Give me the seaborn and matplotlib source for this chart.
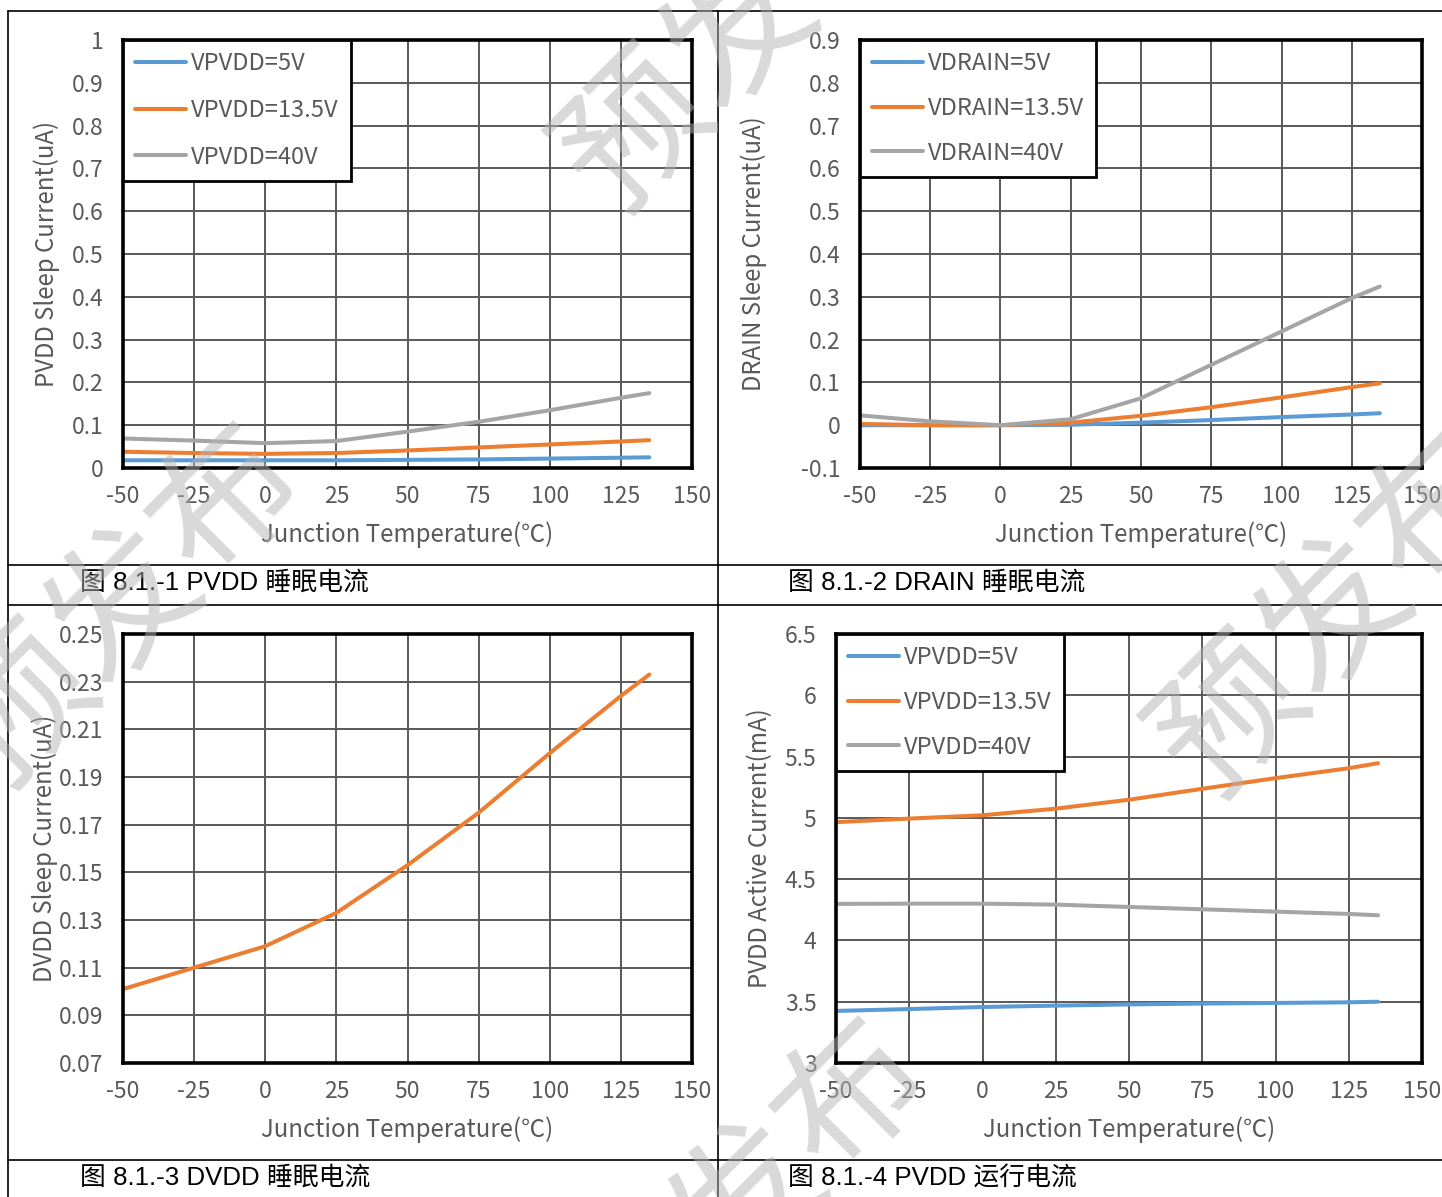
import numpy as np
import pandas as pd
import matplotlib
matplotlib.use("Agg")
import matplotlib.pyplot as plt
from matplotlib.lines import Line2D
from matplotlib.ticker import FixedLocator, FuncFormatter
import seaborn as sns

# ---------------- data ----------------
temps = [-50, -25, 0, 25, 50, 75, 100, 125, 135]

pvdd_sleep_5v = [0.018, 0.018, 0.018, 0.018, 0.019, 0.020, 0.022, 0.024, 0.025]
pvdd_sleep_13v5 = [0.038, 0.035, 0.033, 0.035, 0.041, 0.048, 0.055, 0.062, 0.065]
pvdd_sleep_40v = [0.069, 0.064, 0.058, 0.063, 0.085, 0.108, 0.135, 0.164, 0.175]

drain_sleep_5v = [0.000, 0.000, 0.000, 0.001, 0.006, 0.012, 0.019, 0.025, 0.028]
drain_sleep_13v5 = [0.003, 0.000, 0.000, 0.006, 0.022, 0.042, 0.065, 0.089, 0.098]
drain_sleep_40v = [0.023, 0.009, 0.000, 0.014, 0.063, 0.141, 0.219, 0.297, 0.324]

dvdd_sleep = [0.101, 0.110, 0.119, 0.133, 0.153, 0.175, 0.200, 0.224, 0.233]

pvdd_active_5v = [3.425, 3.440, 3.457, 3.468, 3.478, 3.485, 3.490, 3.495, 3.500]
pvdd_active_13v5 = [4.965, 4.994, 5.021, 5.075, 5.148, 5.237, 5.324, 5.405, 5.446]
pvdd_active_40v = [4.298, 4.300, 4.300, 4.292, 4.273, 4.254, 4.235, 4.216, 4.205]

pvdd_labels = ["VPVDD=5V", "VPVDD=13.5V", "VPVDD=40V"]
drain_labels = ["VDRAIN=5V", "VDRAIN=13.5V", "VDRAIN=40V"]
dvdd_labels = ["DVDD"]

x_ticks = [-50, -25, 0, 25, 50, 75, 100, 125, 150]
y_ticks_1 = [0, 0.1, 0.2, 0.3, 0.4, 0.5, 0.6, 0.7, 0.8, 0.9, 1]
y_ticks_2 = [-0.1, 0, 0.1, 0.2, 0.3, 0.4, 0.5, 0.6, 0.7, 0.8, 0.9]
y_ticks_3 = [0.07, 0.09, 0.11, 0.13, 0.15, 0.17, 0.19, 0.21, 0.23, 0.25]
y_ticks_4 = [3, 3.5, 4, 4.5, 5, 5.5, 6, 6.5]

x_label = "Junction Temperature(℃)"
y_labels = ["PVDD Sleep Current(uA)", "DRAIN Sleep Current(uA)",
            "DVDD Sleep Current(uA)", "PVDD Active Current(mA)"]
captions = ["图 8.1.-1 PVDD 睡眠电流", "图 8.1.-2 DRAIN 睡眠电流",
            "图 8.1.-3 DVDD 睡眠电流", "图 8.1.-4 PVDD 运行电流"]
watermark = "预发布"

series_colors = ["#5B9BD5", "#ED7D31", "#A5A5A5"]

# ---------------- style ----------------
sns.set_theme(style="white")
plt.rcParams["font.family"] = ["Noto Sans CJK SC", "DejaVu Sans"]
TXT = "#595959"
FS = 16.5
LFS = 17.3
LEGFS = 17

W, H = 1442, 1197
fig = plt.figure(figsize=(W / 100, H / 100), dpi=100)
fig.patch.set_facecolor("white")


def rect(x0, y0, x1, y1):
    return [x0 / W, 1 - y1 / H, (x1 - x0) / W, (y1 - y0) / H]


def make_df(series_list, labels):
    rows = []
    for vals, lab in zip(series_list, labels):
        for t, v in zip(temps, vals):
            rows.append({"T": t, "I": v, "series": lab})
    return pd.DataFrame(rows)


def draw(ax_rect, series_list, labels, colors, yticks, ylim, ylabel,
         ylabel_x, legend=True, labelspacing=0.92):
    ax = fig.add_axes(rect(*ax_rect))
    df = make_df(series_list, labels)
    sns.lineplot(data=df, x="T", y="I", hue="series", hue_order=labels,
                 palette=colors, linewidth=2.9, ax=ax, legend=False, zorder=3)
    ax.set_xlim(-50, 150)
    ax.set_ylim(*ylim)
    ax.xaxis.set_major_locator(FixedLocator(x_ticks))
    ax.yaxis.set_major_locator(FixedLocator(yticks))
    ax.yaxis.set_major_formatter(FuncFormatter(lambda v, p: f"{v:g}"))
    ax.xaxis.set_major_formatter(FuncFormatter(lambda v, p: f"{v:g}"))
    ax.grid(True, color="#595959", linewidth=1.4, zorder=1)
    ax.set_axisbelow(True)
    for s in ax.spines.values():
        s.set_visible(True)
        s.set_color("black")
        s.set_linewidth(2.6)
        s.set_zorder(4)
    ax.tick_params(axis="both", length=0, labelsize=FS, labelcolor=TXT)
    ax.tick_params(axis="y", pad=14)
    ax.tick_params(axis="x", pad=12)
    ax.set_xlabel(x_label, fontsize=LFS, color=TXT)
    ax.set_ylabel(ylabel, fontsize=LFS, color=TXT)
    ax.xaxis.set_label_coords(0.5, -0.155)
    ax.xaxis.label.set_va("center")
    ax.yaxis.set_label_coords(ylabel_x, 0.5)
    ax.yaxis.label.set_va("center")
    if legend:
        handles = [Line2D([0], [0], color=c, lw=2.9) for c in colors]
        leg = ax.legend(handles, labels, loc="upper left",
                        bbox_to_anchor=(0, 1), borderaxespad=0,
                        fontsize=LEGFS, frameon=True, fancybox=False,
                        handlelength=2.15, handletextpad=0.2,
                        labelspacing=labelspacing, borderpad=0.52)
        fr = leg.get_frame()
        fr.set_edgecolor("black")
        fr.set_linewidth(2.0)
        fr.set_facecolor("white")
        fr.set_alpha(1)
        for t in leg.get_texts():
            t.set_color(TXT)
        leg.set_zorder(6)
    return ax


draw((123, 40, 692, 468), [pvdd_sleep_5v, pvdd_sleep_13v5, pvdd_sleep_40v],
     pvdd_labels, series_colors, y_ticks_1, (0, 1), y_labels[0], -0.134,
     labelspacing=1.0)
draw((860, 40, 1422, 468), [drain_sleep_5v, drain_sleep_13v5, drain_sleep_40v],
     drain_labels, series_colors, y_ticks_2, (-0.1, 0.9), y_labels[1], -0.189)
draw((123, 634, 692, 1063), [dvdd_sleep], dvdd_labels, [series_colors[1]],
     y_ticks_3, (0.07, 0.25), y_labels[2], -0.137, legend=False)
draw((836, 634, 1422, 1063), [pvdd_active_5v, pvdd_active_13v5, pvdd_active_40v],
     pvdd_labels, series_colors, y_ticks_4, (3, 6.5), y_labels[3], -0.130)

# ---------------- table frame ----------------
def hline(y, x0=8, x1=W):
    fig.add_artist(Line2D([x0 / W, x1 / W], [1 - y / H, 1 - y / H],
                          transform=fig.transFigure, color="black", lw=1.2))


def vline(x, y0=11, y1=H):
    fig.add_artist(Line2D([x / W, x / W], [1 - y0 / H, 1 - y1 / H],
                          transform=fig.transFigure, color="black", lw=1.2))


for y in (11, 565, 605, 1160):
    hline(y)
vline(8)
vline(718)

cap_font = ["Liberation Sans", "Noto Sans CJK SC"]
for (cx, cy), cap in zip([(80, 583), (788, 583), (80, 1178), (788, 1178)], captions):
    fig.text(cx / W, 1 - cy / H, cap, fontsize=18.6, family=cap_font,
             color="black", ha="left", va="center")

# ---------------- watermark ----------------
for (wx, wy) in [(740, 30), (125, 605), (1335, 615), (750, 1200)]:
    fig.text(wx / W, 1 - wy / H, watermark, fontsize=105, rotation=45,
             rotation_mode="anchor", ha="center", va="center",
             color="#b4b4b4", alpha=0.5, zorder=20)

fig.savefig("out.png", dpi=100, facecolor="white")
